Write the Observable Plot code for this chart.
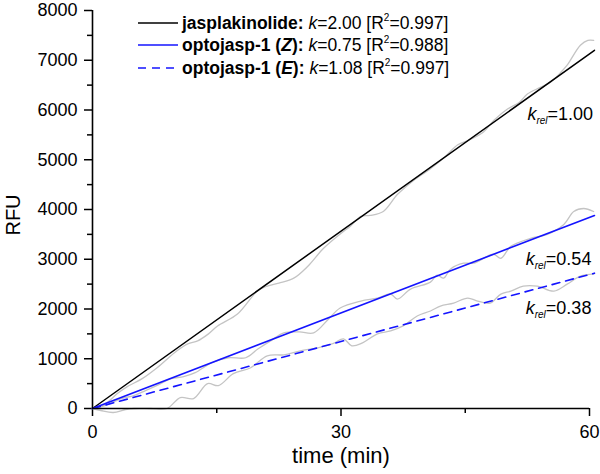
<!DOCTYPE html>
<html><head><meta charset="utf-8">
<script src="https://cdn.jsdelivr.net/npm/d3@7"></script>
<script src="https://cdn.jsdelivr.net/npm/@observablehq/plot@0.6"></script>
<style>
body{margin:0;background:#fff;font-family:"Liberation Sans",Arial,sans-serif}
#wrap{position:relative;width:600px;height:474px}
.leg{position:absolute;left:138px;font-size:17.5px;white-space:nowrap;display:flex;align-items:center;height:22px;line-height:22px;color:#000}
.leg svg{margin-right:4px}
.leg sup{font-size:10px;vertical-align:8px;line-height:0}
</style></head><body><div id="wrap"></div><script>
// ---- data ----
const tJasp = [0,1,2,3,4.2,6,7.8,10.2,11.5,12.7,14,15.1,17.5,19.9,21.1,22.5,24.3,26,27.9,30.3,31.1,32.4,33.5,35.1,36.8,38.5,40.8,42.5,44.1,45.5,47.2,48.5,50.1,51.5,52.5,54,55.3,56.5,57.3,58.9,59.8,60.5];
const vJasp = [0,40,150,300,440,600,820,1160,1300,1360,1500,1660,1900,2360,2460,2520,2620,2860,3220,3560,3660,3860,3880,3960,4300,4550,4820,5050,5300,5400,5560,5800,6020,6150,6320,6450,6560,6750,6900,7300,7400,7400];
const tZ = [0,1.5,3.5,5,6.4,8,9.5,11,12.4,14.4,16.4,18.5,20,21.5,23.1,25,26.7,28.5,29.9,32.4,34.4,36,36.8,38.4,40.8,41.6,42.4,43.2,44.8,46,48.4,49.3,50.5,52.9,54.9,56.9,58.1,59.3,60.5];
const vZ = [0,60,200,260,360,480,600,640,720,920,1020,1020,1200,1360,1520,1540,1520,1800,2020,2160,2220,2300,2200,2400,2540,2680,2620,2800,2920,2920,3100,3020,3260,3420,3500,3700,3960,4020,3960];
const tE = [0,1,2.5,4,5,7,9,10.6,12.2,13.9,15.2,17,19.1,21.1,23.1,25.1,27.2,29.1,30.3,31.3,32.6,34.4,36,37.5,39.2,40.8,42,43.6,45.3,46.5,48,49.3,50.5,52,53.7,55.7,57.3,58.9,60.5];
const vE = [0,-40,-80,-20,0,0,0,220,200,500,460,700,820,1060,1080,1160,1220,1310,1400,1260,1320,1500,1560,1660,1860,1960,2060,2120,2220,2160,2120,2300,2360,2460,2460,2360,2500,2660,2700];
// linear fits (start, end)
const fitT = [0, 60.6];
const fitJasp = [0, 7200];
const fitZ = [0, 3880];
const fitE = [0, 2720];
// annotations
const krelText = ["1.00", "0.54", "0.38"];
const krelT = [52.5, 52.3, 52.3];
const krelV = [5920, 3000, 2020];
// ticks
const yMajor = [0,1000,2000,3000,4000,5000,6000,7000,8000];
const yMinor = [500,1500,2500,3500,4500,5500,6500,7500];
const xMajor = [0,30,60];
const xMinor = [15,45];
// legend
const legNames = ["jasplakinolide:", "optojasp-1 (<i>Z</i>):", "optojasp-1 (<i>E</i>):"];
const legK = ["2.00", "0.75", "1.08"];
const legR2 = ["0.997", "0.988", "0.997"];

const BLUE = "#1414ff", GRAY = "#c4c4c4";
const toPts = (ts, vs) => ts.map((t, i) => ({t, v: vs[i]}));

const chart = Plot.plot({
  width: 600, height: 474,
  marginLeft: 92, marginRight: 11, marginTop: 10, marginBottom: 66,
  x: {domain: [0, 60]},
  y: {domain: [0, 8000]},
  style: {fontFamily: "Liberation Sans, Arial, sans-serif", fontSize: "18px", color: "#000", background: "#fff", overflow: "visible"},
  marks: [
    Plot.axisY(yMinor, {tickSize: 5, tickFormat: () => "", label: null, strokeWidth: 1.5}),
    Plot.axisY(yMajor, {tickSize: 8, tickPadding: 7, label: null, strokeWidth: 1.5, fontSize: 18, tickFormat: d => String(d)}),
    Plot.axisX(xMinor, {tickSize: 5, tickFormat: () => "", label: null, strokeWidth: 1.5}),
    Plot.axisX(xMajor, {tickSize: 8, tickPadding: 9, label: null, strokeWidth: 1.5, fontSize: 18, tickFormat: d => String(d)}),
    Plot.line(toPts(tJasp, vJasp), {x: "t", y: "v", stroke: GRAY, strokeWidth: 1.3, curve: "catmull-rom"}),
    Plot.line(toPts(tZ, vZ), {x: "t", y: "v", stroke: GRAY, strokeWidth: 1.3, curve: "catmull-rom"}),
    Plot.line(toPts(tE, vE), {x: "t", y: "v", stroke: GRAY, strokeWidth: 1.3, curve: "catmull-rom"}),
    Plot.line(toPts(fitT, fitJasp), {x: "t", y: "v", stroke: "#000", strokeWidth: 1.5}),
    Plot.line(toPts(fitT, fitZ), {x: "t", y: "v", stroke: BLUE, strokeWidth: 1.6}),
    Plot.line(toPts(fitT, fitE), {x: "t", y: "v", stroke: BLUE, strokeWidth: 1.6, strokeDasharray: "8,6"}),
    Plot.ruleX([0], {stroke: "#000", strokeWidth: 1.6}),
    Plot.ruleY([0], {stroke: "#000", strokeWidth: 1.6}),
    Plot.text(krelText.map((s, i) => ({s, t: krelT[i], v: krelV[i]})), {x: "t", y: "v", text: "s", textAnchor: "start", fontSize: 18, className: "krel"})
  ]
});

// k_rel labels with subscript
d3.select(chart).selectAll(".krel text").each(function() {
  const el = d3.select(this);
  const val = el.text();
  el.text(null);
  el.append("tspan").attr("font-style", "italic").text("k");
  el.append("tspan").attr("font-style", "italic").attr("font-size", 10).attr("dy", 4).text("rel");
  el.append("tspan").attr("dy", -4).text("=" + val);
});

const svg = d3.select(chart);
svg.append("text").attr("transform", "translate(20,215) rotate(-90)").attr("text-anchor", "middle")
  .attr("font-size", 20).text("RFU");
svg.append("text").attr("x", 341).attr("y", 463).attr("text-anchor", "middle")
  .attr("font-size", 22).text("time (min)");

const wrap = document.getElementById("wrap");
wrap.appendChild(chart);

const legStyles = [{c: "#000", d: null}, {c: BLUE, d: null}, {c: BLUE, d: "8,6"}];
const legTops = [12, 34, 57];
legNames.forEach((n, i) => {
  const div = document.createElement("div");
  div.className = "leg";
  div.style.top = legTops[i] + "px";
  const s = legStyles[i];
  div.innerHTML = `<svg width="40" height="4"><line x1="0" x2="40" y1="2" y2="2" stroke="${s.c}" stroke-width="1.6" ${s.d ? `stroke-dasharray="${s.d}"` : ""}/></svg>` +
    `<span><b>${n}</b>&nbsp;<i>k</i>=${legK[i]} [R<sup>2</sup>=${legR2[i]}]</span>`;
  wrap.appendChild(div);
});
</script></body></html>
